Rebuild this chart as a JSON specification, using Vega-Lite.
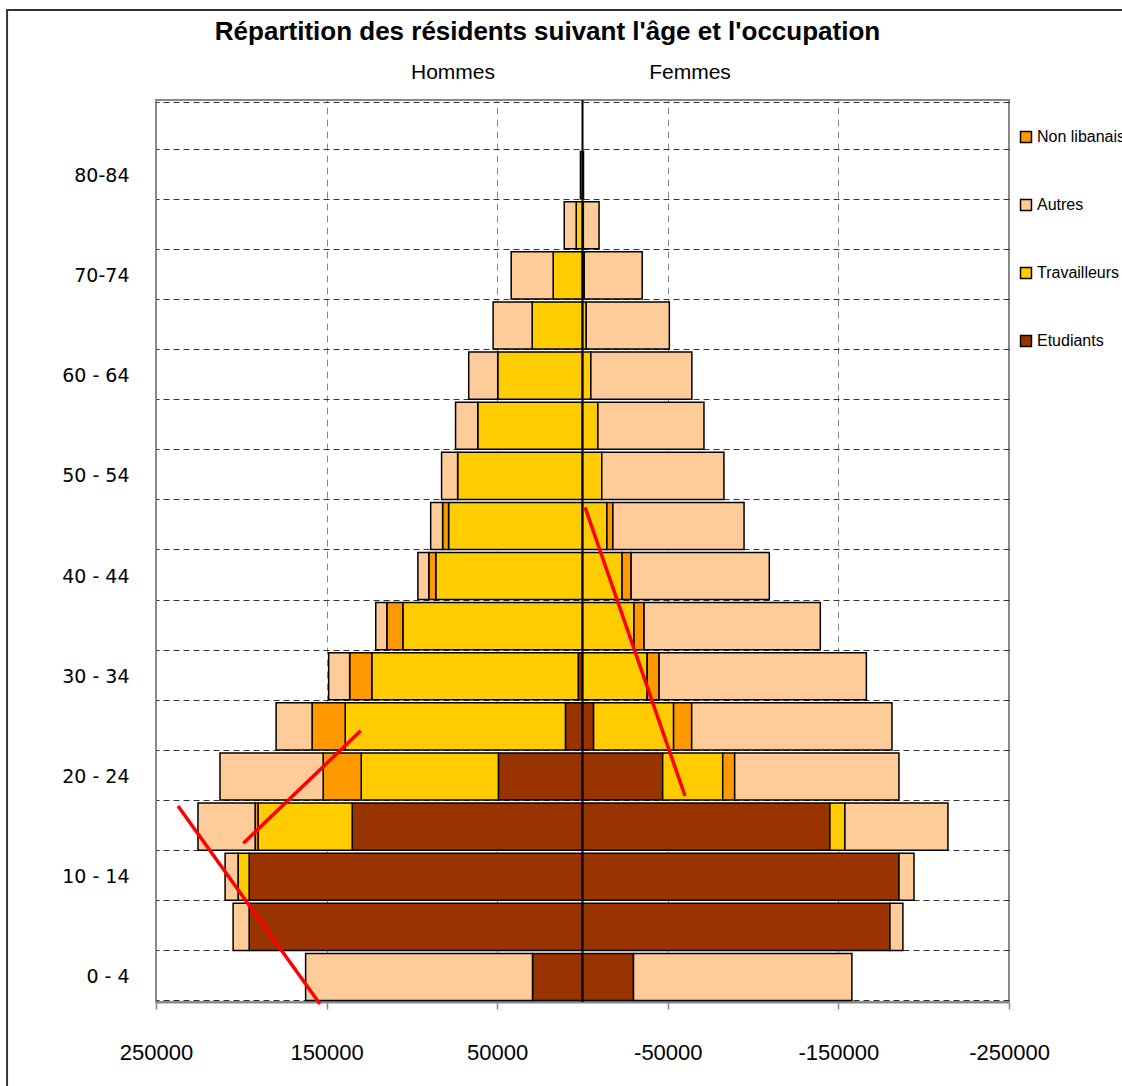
{
  "$schema": "https://vega.github.io/schema/vega-lite/v6.json",
  "width": 853,
  "height": 902,
  "autosize": {"type": "none"},
  "padding": {"left": 156, "top": 100, "right": 113, "bottom": 84},
  "background": "white",
  "title": {
    "text": "Répartition des résidents suivant l'âge et l'occupation",
    "font": "Liberation Sans",
    "fontSize": 26,
    "fontWeight": "bold",
    "color": "#000000",
    "anchor": "middle",
    "frame": "group",
    "dx": -35,
    "offset": -36
  },
  "config": {
    "view": {"stroke": "#888888", "strokeWidth": 2},
    "axis": {"labelColor": "#000000"}
  },
  "datasets": {
    "population": [
      {"age": "0 - 4", "sexe": "Hommes", "occupation": "Etudiants", "ordre": 1, "population": 29300},
      {"age": "0 - 4", "sexe": "Hommes", "occupation": "Autres", "ordre": 4, "population": 133000},
      {"age": "0 - 4", "sexe": "Femmes", "occupation": "Etudiants", "ordre": 1, "population": -29900},
      {"age": "0 - 4", "sexe": "Femmes", "occupation": "Autres", "ordre": 4, "population": -128000},
      {"age": "5 - 9", "sexe": "Hommes", "occupation": "Etudiants", "ordre": 1, "population": 195400},
      {"age": "5 - 9", "sexe": "Hommes", "occupation": "Autres", "ordre": 4, "population": 9400},
      {"age": "5 - 9", "sexe": "Femmes", "occupation": "Etudiants", "ordre": 1, "population": -180200},
      {"age": "5 - 9", "sexe": "Femmes", "occupation": "Autres", "ordre": 4, "population": -7600},
      {"age": "10 - 14", "sexe": "Hommes", "occupation": "Etudiants", "ordre": 1, "population": 195400},
      {"age": "10 - 14", "sexe": "Hommes", "occupation": "Travailleurs", "ordre": 2, "population": 6500},
      {"age": "10 - 14", "sexe": "Hommes", "occupation": "Autres", "ordre": 4, "population": 7600},
      {"age": "10 - 14", "sexe": "Femmes", "occupation": "Etudiants", "ordre": 1, "population": -185500},
      {"age": "10 - 14", "sexe": "Femmes", "occupation": "Autres", "ordre": 4, "population": -8800},
      {"age": "15 - 19", "sexe": "Hommes", "occupation": "Etudiants", "ordre": 1, "population": 135000},
      {"age": "15 - 19", "sexe": "Hommes", "occupation": "Travailleurs", "ordre": 2, "population": 55200},
      {"age": "15 - 19", "sexe": "Hommes", "occupation": "Non libanais", "ordre": 3, "population": 1700},
      {"age": "15 - 19", "sexe": "Hommes", "occupation": "Autres", "ordre": 4, "population": 33500},
      {"age": "15 - 19", "sexe": "Femmes", "occupation": "Etudiants", "ordre": 1, "population": -145000},
      {"age": "15 - 19", "sexe": "Femmes", "occupation": "Travailleurs", "ordre": 2, "population": -8800},
      {"age": "15 - 19", "sexe": "Femmes", "occupation": "Autres", "ordre": 4, "population": -60400},
      {"age": "20 - 24", "sexe": "Hommes", "occupation": "Etudiants", "ordre": 1, "population": 49300},
      {"age": "20 - 24", "sexe": "Hommes", "occupation": "Travailleurs", "ordre": 2, "population": 80400},
      {"age": "20 - 24", "sexe": "Hommes", "occupation": "Non libanais", "ordre": 3, "population": 22300},
      {"age": "20 - 24", "sexe": "Hommes", "occupation": "Autres", "ordre": 4, "population": 60500},
      {"age": "20 - 24", "sexe": "Femmes", "occupation": "Etudiants", "ordre": 1, "population": -47000},
      {"age": "20 - 24", "sexe": "Femmes", "occupation": "Travailleurs", "ordre": 2, "population": -35200},
      {"age": "20 - 24", "sexe": "Femmes", "occupation": "Non libanais", "ordre": 3, "population": -7000},
      {"age": "20 - 24", "sexe": "Femmes", "occupation": "Autres", "ordre": 4, "population": -96300},
      {"age": "25 - 29", "sexe": "Hommes", "occupation": "Etudiants", "ordre": 1, "population": 10000},
      {"age": "25 - 29", "sexe": "Hommes", "occupation": "Travailleurs", "ordre": 2, "population": 129100},
      {"age": "25 - 29", "sexe": "Hommes", "occupation": "Non libanais", "ordre": 3, "population": 19400},
      {"age": "25 - 29", "sexe": "Hommes", "occupation": "Autres", "ordre": 4, "population": 21100},
      {"age": "25 - 29", "sexe": "Femmes", "occupation": "Etudiants", "ordre": 1, "population": -6500},
      {"age": "25 - 29", "sexe": "Femmes", "occupation": "Travailleurs", "ordre": 2, "population": -46900},
      {"age": "25 - 29", "sexe": "Femmes", "occupation": "Non libanais", "ordre": 3, "population": -10600},
      {"age": "25 - 29", "sexe": "Femmes", "occupation": "Autres", "ordre": 4, "population": -117400},
      {"age": "30 - 34", "sexe": "Hommes", "occupation": "Etudiants", "ordre": 1, "population": 2500},
      {"age": "30 - 34", "sexe": "Hommes", "occupation": "Travailleurs", "ordre": 2, "population": 121000},
      {"age": "30 - 34", "sexe": "Hommes", "occupation": "Non libanais", "ordre": 3, "population": 13000},
      {"age": "30 - 34", "sexe": "Hommes", "occupation": "Autres", "ordre": 4, "population": 12300},
      {"age": "30 - 34", "sexe": "Femmes", "occupation": "Travailleurs", "ordre": 2, "population": -37900},
      {"age": "30 - 34", "sexe": "Femmes", "occupation": "Non libanais", "ordre": 3, "population": -7000},
      {"age": "30 - 34", "sexe": "Femmes", "occupation": "Autres", "ordre": 4, "population": -121500},
      {"age": "35 - 39", "sexe": "Hommes", "occupation": "Travailleurs", "ordre": 2, "population": 105300},
      {"age": "35 - 39", "sexe": "Hommes", "occupation": "Non libanais", "ordre": 3, "population": 9400},
      {"age": "35 - 39", "sexe": "Hommes", "occupation": "Autres", "ordre": 4, "population": 6500},
      {"age": "35 - 39", "sexe": "Femmes", "occupation": "Travailleurs", "ordre": 2, "population": -30200},
      {"age": "35 - 39", "sexe": "Femmes", "occupation": "Non libanais", "ordre": 3, "population": -5900},
      {"age": "35 - 39", "sexe": "Femmes", "occupation": "Autres", "ordre": 4, "population": -103300},
      {"age": "40 - 44", "sexe": "Hommes", "occupation": "Travailleurs", "ordre": 2, "population": 86000},
      {"age": "40 - 44", "sexe": "Hommes", "occupation": "Non libanais", "ordre": 3, "population": 4100},
      {"age": "40 - 44", "sexe": "Hommes", "occupation": "Autres", "ordre": 4, "population": 6400},
      {"age": "40 - 44", "sexe": "Femmes", "occupation": "Travailleurs", "ordre": 2, "population": -23200},
      {"age": "40 - 44", "sexe": "Femmes", "occupation": "Non libanais", "ordre": 3, "population": -5300},
      {"age": "40 - 44", "sexe": "Femmes", "occupation": "Autres", "ordre": 4, "population": -81000},
      {"age": "45 - 49", "sexe": "Hommes", "occupation": "Travailleurs", "ordre": 2, "population": 78500},
      {"age": "45 - 49", "sexe": "Hommes", "occupation": "Non libanais", "ordre": 3, "population": 3500},
      {"age": "45 - 49", "sexe": "Hommes", "occupation": "Autres", "ordre": 4, "population": 7000},
      {"age": "45 - 49", "sexe": "Femmes", "occupation": "Travailleurs", "ordre": 2, "population": -14300},
      {"age": "45 - 49", "sexe": "Femmes", "occupation": "Non libanais", "ordre": 3, "population": -3500},
      {"age": "45 - 49", "sexe": "Femmes", "occupation": "Autres", "ordre": 4, "population": -76900},
      {"age": "50 - 54", "sexe": "Hommes", "occupation": "Travailleurs", "ordre": 2, "population": 73200},
      {"age": "50 - 54", "sexe": "Hommes", "occupation": "Autres", "ordre": 4, "population": 9400},
      {"age": "50 - 54", "sexe": "Femmes", "occupation": "Travailleurs", "ordre": 2, "population": -11300},
      {"age": "50 - 54", "sexe": "Femmes", "occupation": "Autres", "ordre": 4, "population": -71600},
      {"age": "55 - 59", "sexe": "Hommes", "occupation": "Travailleurs", "ordre": 2, "population": 61400},
      {"age": "55 - 59", "sexe": "Hommes", "occupation": "Autres", "ordre": 4, "population": 13000},
      {"age": "55 - 59", "sexe": "Femmes", "occupation": "Travailleurs", "ordre": 2, "population": -9000},
      {"age": "55 - 59", "sexe": "Femmes", "occupation": "Autres", "ordre": 4, "population": -62200},
      {"age": "60 - 64", "sexe": "Hommes", "occupation": "Travailleurs", "ordre": 2, "population": 49700},
      {"age": "60 - 64", "sexe": "Hommes", "occupation": "Autres", "ordre": 4, "population": 17000},
      {"age": "60 - 64", "sexe": "Femmes", "occupation": "Travailleurs", "ordre": 2, "population": -4900},
      {"age": "60 - 64", "sexe": "Femmes", "occupation": "Autres", "ordre": 4, "population": -59200},
      {"age": "65 - 69", "sexe": "Hommes", "occupation": "Travailleurs", "ordre": 2, "population": 29500},
      {"age": "65 - 69", "sexe": "Hommes", "occupation": "Autres", "ordre": 4, "population": 22900},
      {"age": "65 - 69", "sexe": "Femmes", "occupation": "Travailleurs", "ordre": 2, "population": -2200},
      {"age": "65 - 69", "sexe": "Femmes", "occupation": "Autres", "ordre": 4, "population": -48700},
      {"age": "70-74", "sexe": "Hommes", "occupation": "Travailleurs", "ordre": 2, "population": 17200},
      {"age": "70-74", "sexe": "Hommes", "occupation": "Autres", "ordre": 4, "population": 24600},
      {"age": "70-74", "sexe": "Femmes", "occupation": "Travailleurs", "ordre": 2, "population": -1000},
      {"age": "70-74", "sexe": "Femmes", "occupation": "Autres", "ordre": 4, "population": -34000},
      {"age": "75-79", "sexe": "Hommes", "occupation": "Travailleurs", "ordre": 2, "population": 3700},
      {"age": "75-79", "sexe": "Hommes", "occupation": "Autres", "ordre": 4, "population": 7000},
      {"age": "75-79", "sexe": "Femmes", "occupation": "Travailleurs", "ordre": 2, "population": -500},
      {"age": "75-79", "sexe": "Femmes", "occupation": "Autres", "ordre": 4, "population": -9200},
      {"age": "80-84", "sexe": "Hommes", "occupation": "Autres", "ordre": 4, "population": 1200},
      {"age": "80-84", "sexe": "Femmes", "occupation": "Autres", "ordre": 4, "population": -600}
    ]
  },
  "layer": [
    {
      "data": {"name": "population"},
      "mark": {"type": "bar", "stroke": "#000000", "strokeWidth": 1.5},
      "encoding": {
        "y": {
          "field": "age",
          "type": "ordinal",
          "scale": {
            "domain": ["85 +", "80-84", "75-79", "70-74", "65 - 69", "60 - 64", "55 - 59", "50 - 54", "45 - 49", "40 - 44", "35 - 39", "30 - 34", "25 - 29", "20 - 24", "15 - 19", "10 - 14", "5 - 9", "0 - 4"],
            "paddingInner": 0.06,
            "paddingOuter": 0.03
          },
          "axis": {
            "title": null,
            "labelExpr": "indexof(['0 - 4','10 - 14','20 - 24','30 - 34','40 - 44','50 - 54','60 - 64','70-74','80-84'], datum.value) >= 0 ? datum.value : ''",
            "ticks": false,
            "domain": false,
            "grid": true,
            "tickBand": "extent",
            "tickOffset": 2,
            "gridColor": "#333333",
            "gridDash": [6, 4],
            "gridWidth": 1,
            "labelFont": "DejaVu Sans",
            "labelFontSize": 19,
            "labelPadding": 27
          }
        },
        "x": {
          "field": "population",
          "type": "quantitative",
          "stack": "zero",
          "scale": {"domain": [-250000, 250000], "reverse": true, "nice": false, "zero": false},
          "axis": {
            "title": null,
            "values": [250000, 150000, 50000, -50000, -150000, -250000],
            "labelExpr": "'' + datum.value",
            "labelFlush": false,
            "labelOverlap": false,
            "grid": true,
            "gridColor": "#888888",
            "gridDash": [7, 5],
            "gridWidth": 1,
            "domainColor": "#888888",
            "domainWidth": 2,
            "tickColor": "#888888",
            "tickWidth": 1.5,
            "tickSize": 7,
            "labelFont": "Liberation Sans",
            "labelFontSize": 22,
            "labelPadding": 33
          }
        },
        "color": {
          "field": "occupation",
          "type": "nominal",
          "scale": {
            "domain": ["Non libanais", "Autres", "Travailleurs", "Etudiants"],
            "range": ["#FF9900", "#FFCC99", "#FFCC00", "#993300"]
          },
          "legend": {
            "orient": "none",
            "legendX": 862,
            "legendY": 29,
            "title": null,
            "padding": 0,
            "symbolType": "square",
            "symbolSize": 120,
            "symbolStrokeColor": "#000000",
            "symbolStrokeWidth": 1.5,
            "labelFont": "Liberation Sans",
            "labelFontSize": 16,
            "labelColor": "#000000",
            "labelOffset": 3,
            "rowPadding": 50
          }
        },
        "order": {"field": "ordre", "type": "quantitative"}
      }
    },
    {
      "data": {"values": [{}]},
      "mark": {"type": "rule", "color": "#000000", "strokeWidth": 2},
      "encoding": {"x": {"datum": 0, "type": "quantitative"}}
    },
    {
      "data": {"values": [{}]},
      "mark": {"type": "text", "text": "Hommes", "font": "Liberation Sans", "fontSize": 21, "color": "#000000", "align": "center", "baseline": "middle"},
      "encoding": {
        "x": {"datum": 75900, "type": "quantitative"},
        "y": {"datum": 92.7, "type": "quantitative", "scale": {"domain": [0, 90], "nice": false, "zero": false}, "axis": null}
      }
    },
    {
      "data": {"values": [{}]},
      "mark": {"type": "text", "text": "Femmes", "font": "Liberation Sans", "fontSize": 21, "color": "#000000", "align": "center", "baseline": "middle"},
      "encoding": {
        "x": {"datum": -63000, "type": "quantitative"},
        "y": {"datum": 92.7, "type": "quantitative", "scale": {"domain": [0, 90], "nice": false, "zero": false}, "axis": null}
      }
    },
    {
      "data": {"values": [{}]},
      "mark": {"type": "rule", "color": "#FF0000", "strokeWidth": 3.5},
      "encoding": {
        "x": {"datum": 237100, "type": "quantitative"},
        "x2": {"datum": 153900},
        "y": {"datum": 19.56, "type": "quantitative", "scale": {"domain": [0, 90], "nice": false, "zero": false}, "axis": null},
        "y2": {"datum": -0.2}
      }
    },
    {
      "data": {"values": [{}]},
      "mark": {"type": "rule", "color": "#FF0000", "strokeWidth": 3.5},
      "encoding": {
        "x": {"datum": 198800, "type": "quantitative"},
        "x2": {"datum": 130000},
        "y": {"datum": 15.84, "type": "quantitative", "scale": {"domain": [0, 90], "nice": false, "zero": false}, "axis": null},
        "y2": {"datum": 27.07}
      }
    },
    {
      "data": {"values": [{}]},
      "mark": {"type": "rule", "color": "#FF0000", "strokeWidth": 3.5},
      "encoding": {
        "x": {"datum": -1500, "type": "quantitative"},
        "x2": {"datum": -60100},
        "y": {"datum": 49.36, "type": "quantitative", "scale": {"domain": [0, 90], "nice": false, "zero": false}, "axis": null},
        "y2": {"datum": 20.55}
      }
    },
    {
      "data": {"values": [{}]},
      "mark": {"type": "rect", "filled": false, "color": "#333333", "strokeWidth": 2},
      "encoding": {
        "x": {"datum": 337300, "type": "quantitative"},
        "x2": {"datum": -323900},
        "y": {"datum": 98.98, "type": "quantitative", "scale": {"domain": [0, 90], "nice": false, "zero": false}, "axis": null},
        "y2": {"datum": -9.08}
      }
    }
  ],
  "resolve": {"scale": {"y": "independent"}}
}
